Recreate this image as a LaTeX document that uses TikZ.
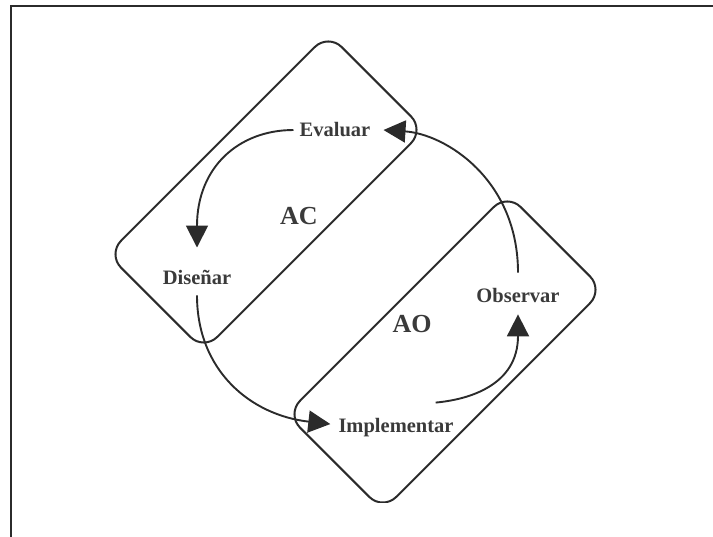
\documentclass[tikz,border=0pt]{standalone}
\usepackage{fontspec}
\setmainfont{Liberation Serif}
\usetikzlibrary{arrows.meta}
\definecolor{ink}{HTML}{2B2B2B}
\definecolor{txt}{HTML}{3A3A3A}
\begin{document}
\begin{tikzpicture}[x=1pt,y=-1pt,
  cyclebox/.style={draw=ink,line width=2pt,rectangle,rounded corners=19pt,
    rotate=45,minimum width=312pt,minimum height=136pt,inner sep=0pt},
  stage/.style={font=\fontsize{20.5}{24}\selectfont\bfseries,text=txt,inner sep=2pt,anchor=base},
  area/.style={font=\fontsize{26}{30}\selectfont\bfseries,text=txt,inner sep=2pt,anchor=base},
  flow/.style={draw=ink,line width=1.9pt,-{Triangle[length=22pt,width=22pt]}}]
\useasboundingbox (0,0) rectangle (713,537);
% frame: left and top rules only
\draw[ink,line width=2pt] (11,537) -- (11,6) -- (713,6);

% the two cycle areas
\node[cyclebox] (acbox) at (266,192) {};
\begin{scope}
  \clip (0,0) rectangle (713,503);
  \node[cyclebox] (aobox) at (445,352) {};
\end{scope}

% area labels
\node[area] (ac) at (299,225) {AC};
\node[area] (ao) at (412,333) {AO};

% stages
\node[stage] (ev)  at (335,137) {Evaluar};
\node[stage] (dis) at (197,285) {Diseñar};
\node[stage] (imp) at (396,433) {Implementar};
\node[stage] (obs) at (518,303) {Observar};

% cycle arrows
\draw[flow] ([xshift=-4pt]ev.west) .. controls +(-55,0) and +(0,-80) .. ([yshift=21pt]dis.north);
\draw[flow] ([yshift=-8pt]dis.south) .. controls +(0,75) and +(-80,-9) .. ([xshift=-6pt,yshift=4pt]imp.west);
\draw[flow] ([xshift=-20pt,yshift=14pt]imp.north east) .. controls +(33,-3) and +(0,71) .. ([yshift=-9pt]obs.south);
\draw[flow] ([yshift=14pt]obs.north) .. controls +(0,-93) and +(62,4) .. ([xshift=11pt]ev.east);
\end{tikzpicture}
\end{document}
